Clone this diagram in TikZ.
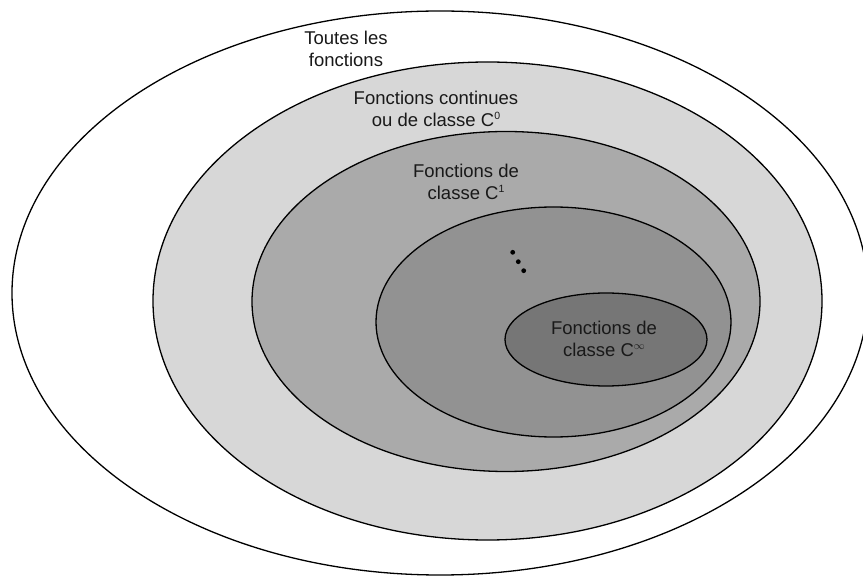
\documentclass[tikz,border=0pt]{standalone}
\usepackage{fontspec}
\setmainfont{Liberation Sans}
\definecolor{gA}{HTML}{D7D7D7}
\definecolor{gB}{HTML}{AAAAAA}
\definecolor{gC}{HTML}{929292}
\definecolor{gD}{HTML}{767676}
\newcommand{\supsm}[1]{\raisebox{0.36em}{\fontsize{10.5}{10.5}\selectfont #1}}
\tikzset{
  setline/.style={draw=black, line width=1.3pt},
  lbl/.style={align=center, inner sep=0pt, text=black!90, font=\fontsize{18.5}{22}\selectfont},
}
\begin{document}
\begin{tikzpicture}[x=1pt,y=-1pt]
\useasboundingbox (0,0) rectangle (863,577);
\begin{scope}
\clip (0,0) rectangle (863,577);
\draw[setline, fill=white] (440,293) ellipse [x radius=428, y radius=282];
\draw[setline, fill=gA] (487.5,301) ellipse [x radius=334.5, y radius=239];
\draw[setline, fill=gB] (506,301.5) ellipse [x radius=254, y radius=170];
\draw[setline, fill=gC] (553.5,322) ellipse [x radius=177.5, y radius=115];
\draw[setline, fill=gD] (606,339.5) ellipse [x radius=101, y radius=46.5];
\end{scope}
\node[lbl] (all) at (346,48.5) {Toutes les\\fonctions};
\node[lbl] (czero) at (436,108.5) {Fonctions continues\\ou de classe C\supsm{0}};
\node[lbl] (cone) at (466,181.5) {Fonctions de\\classe C\supsm{1}};
\node[lbl] (cinf) at (604,338.5) {Fonctions de\\classe C\supsm{$\infty$}};
\fill (512.7,252.3) circle (2.4);
\fill (518.3,261.7) circle (2.4);
\fill (523.7,270.7) circle (2.4);
\end{tikzpicture}
\end{document}
